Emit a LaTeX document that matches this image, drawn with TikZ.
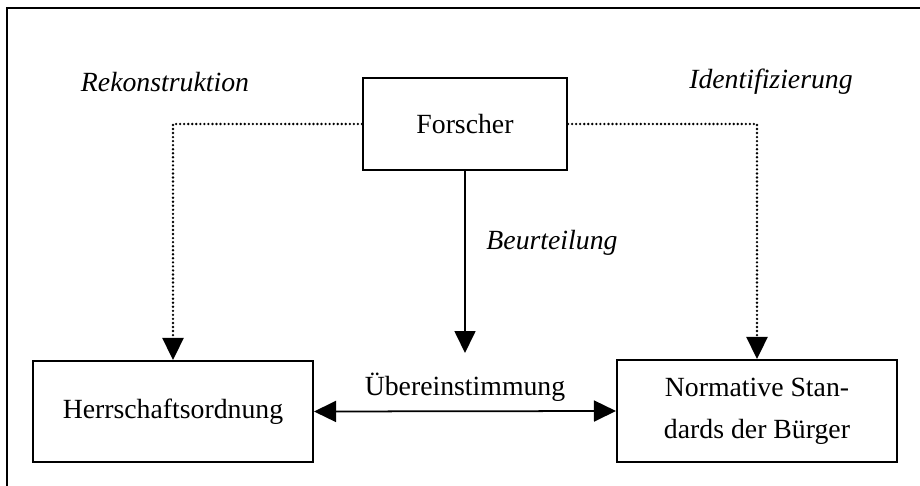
\documentclass[tikz,border=0pt]{standalone}
\usepackage{fontspec}
\setmainfont{Liberation Serif}
\usepackage{tikz}
\usetikzlibrary{positioning}
\usetikzlibrary{arrows.meta}

\begin{document}
\begin{tikzpicture}[x=0.02cm,y=-0.02cm,
  every node/.style = {font=\fontsize{15.8}{24}\selectfont},
  box/.style = {shape=rectangle, draw, line width=1.2pt, align=center, inner sep=0pt},
  lbl/.style = {font=\fontsize{15.8}{24}\selectfont\itshape},
  pfeil/.style = {line width=1pt, -{Triangle[length=0.44cm,width=0.42cm]}},
  punkte/.style = {pfeil, line cap=round, dash pattern=on 0pt off 2.3pt, line width=1.5pt}
  ]
  \clip (0,0) rectangle (920,486);
  \draw[line width=1.1pt] (7,8) rectangle (960,520);

  \node[box, minimum width=4.08cm, minimum height=1.84cm] (forscher) at (465,124) {Forscher};
  \node[box, minimum width=5.6cm, minimum height=2.02cm] (herrschaft) at (173,411.5) {Herrschaftsordnung};
  \node[box, minimum width=5.6cm, minimum height=2.04cm] (buerger) at (757,411) {Normative Stan-\\dards der Bürger};

  \node[lbl] (rekon) at (165,82) {Rekonstruktion};
  \node[lbl] (ident) at (771,82) {Identifizierung};
  \node[lbl] (beurt) at (552,243) {Beurteilung};

  \coordinate (ziel) at (465,353);
  \draw[pfeil] (forscher.south) -- (ziel);
  \draw[punkte] (forscher.west) -| (herrschaft.north);
  \draw[punkte] (forscher.east) -| (buerger.north);
  \draw[line width=1pt, {Triangle[length=0.44cm,width=0.42cm]}-{Triangle[length=0.44cm,width=0.42cm]}]
    (herrschaft.east) -- node[above=2pt] (ueber) {Übereinstimmung} (buerger.west);
\end{tikzpicture}
\end{document}
